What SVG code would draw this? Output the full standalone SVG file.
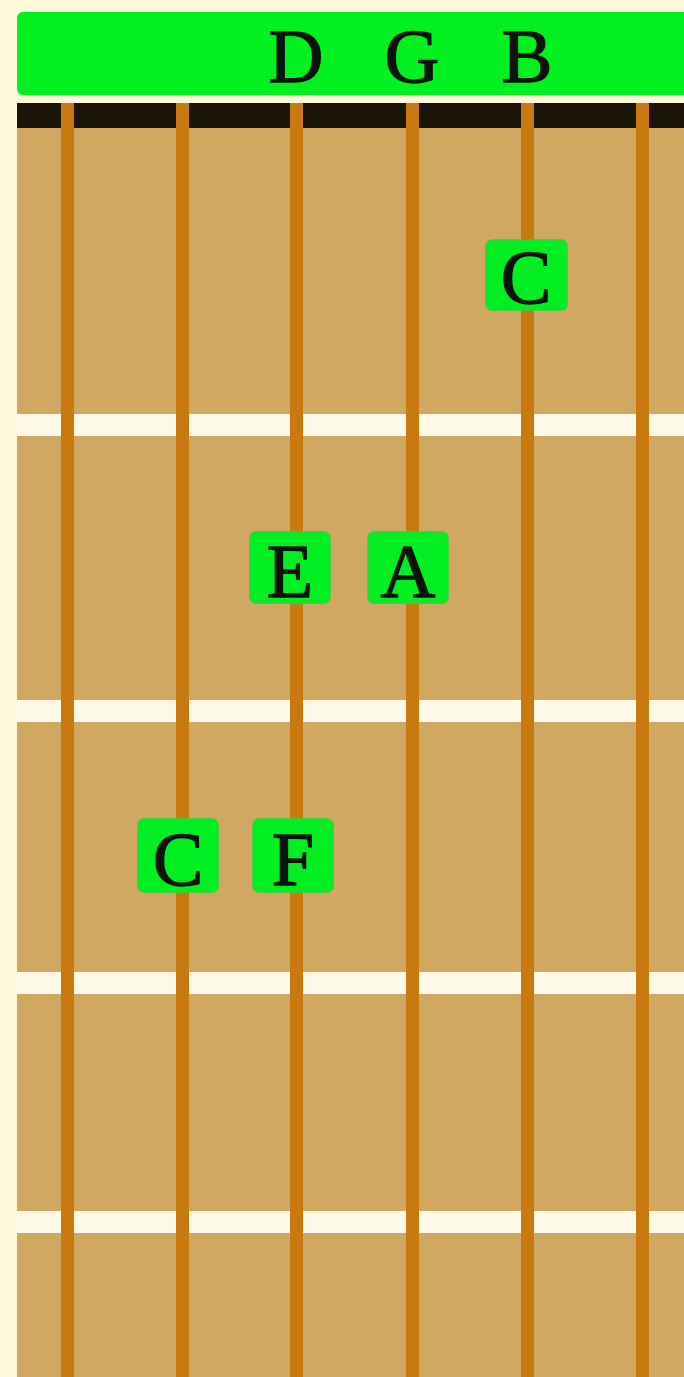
<svg xmlns="http://www.w3.org/2000/svg" width="684" height="1377" viewBox="0 0 684 1377">
<style>
.lbl{font-family:"Liberation Serif","DejaVu Serif",serif;font-size:76px;fill:#0b140b;stroke:#0b140b;stroke-width:1.3;text-anchor:middle}
.note{fill:#00ee22;stroke:#22d93a;stroke-width:1.5}
.fret{fill:#fcfae6}
.str{fill:#c8790f}
</style>
<rect x="0" y="0" width="684" height="1377" fill="#fdf9d8"/>
<g id="header">
<rect x="17" y="12" width="680" height="83" rx="6" fill="#00f020"/>
<text class="lbl" x="296" y="82">D</text>
<text class="lbl" x="412" y="82">G</text>
<text class="lbl" x="527" y="82">B</text>
</g>
<g id="board">
<rect x="17" y="103" width="667" height="1274" fill="#d0a862"/>
<rect x="17" y="103" width="667" height="25" fill="#1a1409"/>
<g id="frets">
<rect class="fret" x="17" y="414" width="667" height="22"/>
<rect class="fret" x="17" y="700" width="667" height="22"/>
<rect class="fret" x="17" y="972" width="667" height="22"/>
<rect class="fret" x="17" y="1211" width="667" height="22"/>
</g>
<g id="strings">
<rect class="str" x="61" y="103" width="13" height="1274"/>
<rect class="str" x="176" y="103" width="13" height="1274"/>
<rect class="str" x="290" y="103" width="13" height="1274"/>
<rect class="str" x="406" y="103" width="13" height="1274"/>
<rect class="str" x="521" y="103" width="13" height="1274"/>
<rect class="str" x="636" y="103" width="13" height="1274"/>
</g>
</g>
<g id="note-C1"><rect class="note" x="486" y="240" width="81" height="70" rx="6"/><text class="lbl" x="526" y="303">C</text></g>
<g id="note-E"><rect class="note" x="250" y="532" width="80" height="71" rx="6"/><text class="lbl" x="290" y="597">E</text></g>
<g id="note-A"><rect class="note" x="368" y="532" width="80" height="71" rx="6"/><text class="lbl" x="408" y="597">A</text></g>
<g id="note-C2"><rect class="note" x="138" y="819" width="80" height="73" rx="6"/><text class="lbl" x="178" y="885">C</text></g>
<g id="note-F"><rect class="note" x="253" y="819" width="80" height="73" rx="6"/><text class="lbl" x="293" y="885">F</text></g>
</svg>
